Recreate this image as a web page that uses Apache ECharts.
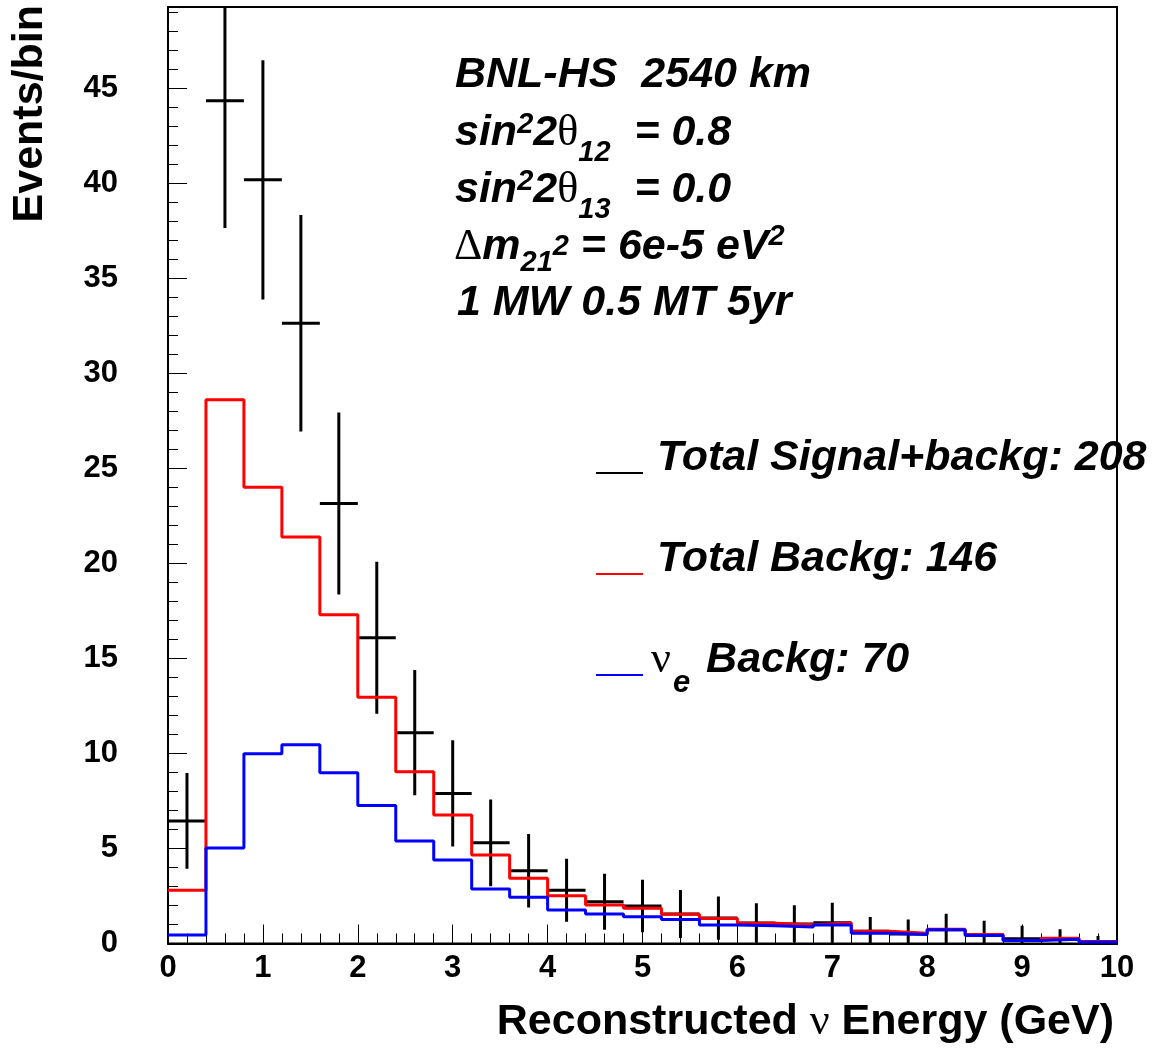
<!DOCTYPE html>
<html>
<head>
<meta charset="utf-8">
<script src="https://cdn.jsdelivr.net/npm/echarts@6/dist/echarts.min.js"></script>
<style>
html,body{margin:0;padding:0;background:#fff;}
#chart{width:1153px;height:1048px;}
</style>
</head>
<body>
<div id="chart"></div>
<script>
// ---- data ----
const binEdges = [0.0,0.4,0.8,1.2,1.6,2.0,2.4,2.8,3.2,3.6,4.0,4.4,4.8,5.2,5.6,6.0,6.4,6.8,7.2,7.6,8.0,8.4,8.8,9.2,9.6,10.0];
const totalSignalBackg = [6.45,44.36,40.2,32.65,23.16,16.1,11.1,7.9,5.3,3.83,2.8,2.2,1.97,1.55,1.34,1.08,1.03,1.09,0.64,0.5,0.72,0.45,0.25,0.25,0.1];
const totalSignalBackgErr = [2.52,6.69,6.3,5.7,4.79,4.0,3.3,2.8,2.28,1.93,1.66,1.47,1.38,1.26,1.14,1.04,0.98,1.05,0.75,0.76,0.85,0.75,0.68,0.5,0.3];
const totalBackg = [2.8,28.63,24.02,21.4,17.3,12.96,9.04,6.76,4.66,3.43,2.52,2.03,1.85,1.54,1.31,1.06,0.99,1.09,0.64,0.54,0.75,0.47,0.16,0.27,0.1];
const nueBackg = [0.45,5.03,9.99,10.46,8.99,7.27,5.39,4.39,2.87,2.44,1.76,1.55,1.41,1.27,0.97,0.94,0.87,0.98,0.54,0.47,0.72,0.42,0.16,0.23,0.08];
const legendNames = ['Total Signal+backg: 208', 'Total Backg: 146', 'nue Backg: 70'];

const FONT = 'Liberation Sans, Arial, Helvetica, sans-serif';
const SERIF = 'Liberation Serif, Times New Roman, serif';
const TS = 43;   // title/annotation text size
const SS = 29;   // sub/superscript size

function stepData(values) {
  const d = values.map((v, i) => [binEdges[i], v]);
  d.push([binEdges[binEdges.length - 1], values[values.length - 1]]);
  return d;
}

const chart = echarts.init(document.getElementById('chart'), null, {renderer: 'canvas'});

const bi = (size) => ({fontFamily: FONT, fontSize: size, fontWeight: 'bold', fontStyle: 'italic', fill: '#000'});
const symS = {fontFamily: SERIF, fontSize: 44, fontWeight: 'normal', fontStyle: 'normal', fill: '#000'};

const richAnn = {
  b: bi(TS),
  sym: symS,
  sup: Object.assign(bi(SS), {padding: [0, 0, 16, 0]}),
  sub: Object.assign(bi(SS), {padding: [40, 0, 0, 0]}),
  sub2: Object.assign(bi(SS), {padding: [32, 0, 0, 0]}),
  supm: Object.assign(bi(SS), {padding: [0, 0, 0, 0]}),
  sup3: Object.assign(bi(SS), {padding: [0, 0, 20, 0]}),
  sube: Object.assign(bi(31), {padding: [46, 4, 0, 2]})
};

function annText(x, y, text) {
  return {
    type: 'text', x: x, y: y, z: 10,
    style: Object.assign(bi(TS), {text: text, rich: richAnn, align: 'left', verticalAlign: 'middle'})
  };
}
function legLine(y, color) {
  return {
    type: 'line', z: 10,
    shape: {x1: 596, y1: y, x2: 643, y2: y},
    style: {stroke: color, lineWidth: 2}
  };
}

const option = {
  backgroundColor: '#fff',
  animation: false,
  grid: {
    left: 168, right: 36, top: 7, bottom: 104.5,
    show: true, borderColor: '#000', borderWidth: 2, backgroundColor: 'transparent',
    outerBoundsMode: 'none'
  },
  xAxis: {
    type: 'value', min: 0, max: 10, interval: 1,
    name: 'Reconstructed {sym|ν} Energy (GeV)',
    nameLocation: 'end', nameGap: -3, nameMoveOverlap: false,
    nameTextStyle: {
      fontFamily: FONT, fontSize: TS, fontWeight: 'bold', color: '#000',
      align: 'right', verticalAlign: 'middle', padding: [157, 0, 0, 0],
      rich: {sym: {fontFamily: SERIF, fontSize: 44, fontWeight: 'normal', color: '#000'}}
    },
    axisLine: {onZero: false, lineStyle: {color: '#000', width: 2}},
    axisTick: {inside: true, length: 19, lineStyle: {color: '#000', width: 1}},
    minorTick: {show: true, splitNumber: 5, length: 10, lineStyle: {color: '#000', width: 1}},
    splitLine: {show: false},
    axisLabel: {fontFamily: FONT, fontSize: 31, fontWeight: 'bold', color: '#000', margin: 9}
  },
  yAxis: {
    type: 'value', min: 0, max: 49.3, interval: 5,
    axisLine: {onZero: false, lineStyle: {color: '#000', width: 2}},
    axisTick: {inside: true, length: 19, lineStyle: {color: '#000', width: 1}},
    minorTick: {show: true, splitNumber: 5, length: 10, lineStyle: {color: '#000', width: 1}},
    splitLine: {show: false},
    axisLabel: {fontFamily: FONT, fontSize: 31, fontWeight: 'bold', color: '#000', margin: 50, showMaxLabel: false}
  },
  series: [
    {
      type: 'custom', name: legendNames[0], coordinateSystem: 'cartesian2d', z: 2, clip: true,
      data: totalSignalBackg.map((v, i) => [binEdges[i], binEdges[i + 1], v, totalSignalBackgErr[i]]),
      encode: {x: [0, 1], y: 2},
      renderItem: function (params, api) {
        const lo = api.value(0), hi = api.value(1), v = api.value(2), e = api.value(3);
        const c = (lo + hi) / 2;
        const a = api.coord([lo, v]), b = api.coord([hi, v]);
        const t = api.coord([c, v + e]), d = api.coord([c, Math.max(v - e, 0)]);
        const cs = params.coordSys;
        return {
          type: 'group',
          clipPath: {type: 'rect', shape: {x: cs.x, y: cs.y, width: cs.width, height: cs.height}},
          children: [
            {type: 'line', shape: {x1: a[0], y1: a[1], x2: b[0], y2: b[1]}, style: {stroke: '#000', lineWidth: 3}},
            {type: 'line', shape: {x1: t[0], y1: t[1], x2: d[0], y2: d[1]}, style: {stroke: '#000', lineWidth: 3}}
          ]
        };
      }
    },
    {
      type: 'line', name: legendNames[1], step: 'end', symbol: 'none', z: 3, clip: true,
      data: stepData(totalBackg),
      lineStyle: {color: '#ff0000', width: 3}, itemStyle: {color: '#ff0000'}
    },
    {
      type: 'line', name: legendNames[2], step: 'end', symbol: 'none', z: 4, clip: true,
      data: stepData(nueBackg),
      lineStyle: {color: '#0000ff', width: 3}, itemStyle: {color: '#0000ff'}
    }
  ],
  graphic: [
    {
      type: 'text', x: 30, y: 5, rotation: Math.PI / 2, z: 10,
      style: {text: 'Events/bin', fontFamily: FONT, fontSize: TS, fontWeight: 'bold', fill: '#000',
              align: 'right', verticalAlign: 'middle'}
    },
    annText(455, 75, 'BNL-HS  2540 km'),
    annText(455, 133, '{b|sin}{sup|2}{b|2}{sym|θ}{sub|12}{b|  = 0.8}'),
    annText(455, 190, '{b|sin}{sup|2}{b|2}{sym|θ}{sub|13}{b|  = 0.0}'),
    annText(454, 247, '{sym|Δ}{b|m}{sub2|21}{supm|2}{b| = 6e-5 eV}{sup3|2}'),
    annText(457, 303, '1 MW 0.5 MT 5yr'),
    legLine(473, '#000000'),
    legLine(574, '#ff0000'),
    legLine(675, '#0000ff'),
    annText(657, 458, 'Total Signal+backg: 208'),
    annText(657, 559, 'Total Backg: 146'),
    annText(651, 660, '{sym|ν}{sube|e}{b| Backg: 70}')
  ]
};

chart.setOption(option);
</script>
</body>
</html>
